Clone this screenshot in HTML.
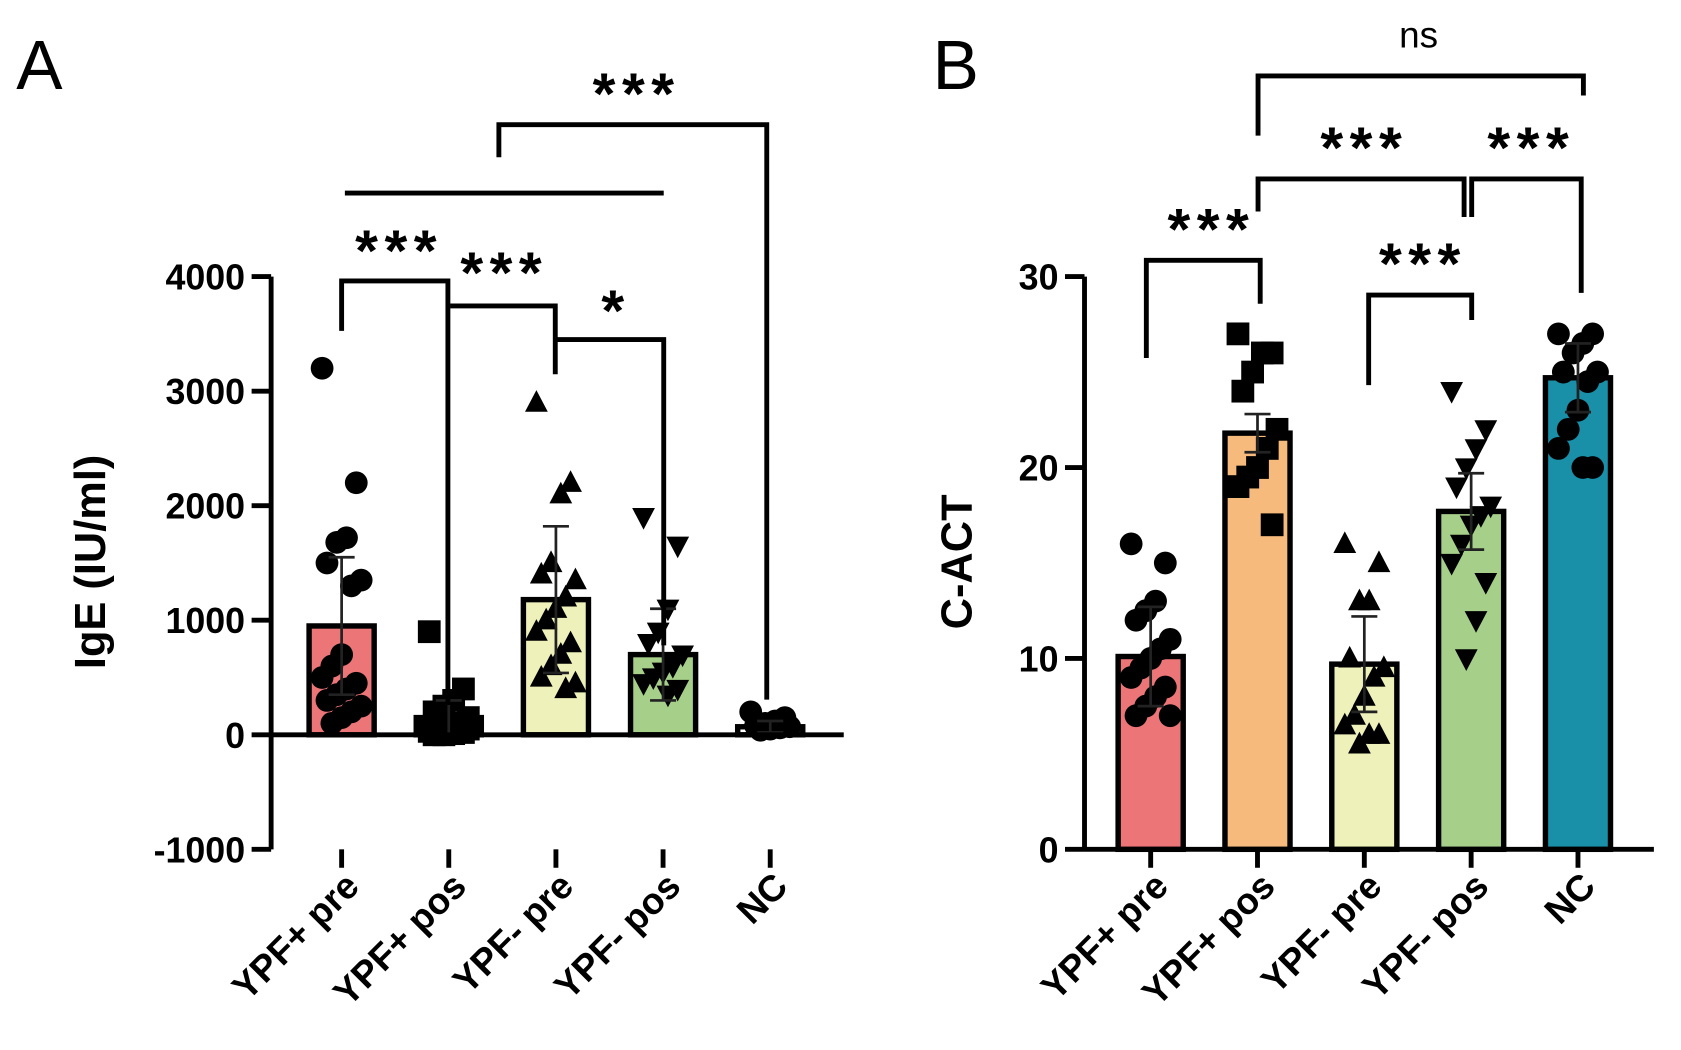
<!DOCTYPE html>
<html><head><meta charset="utf-8"><style>
html,body{margin:0;padding:0;background:#fff;}
svg{display:block;font-family:"Liberation Sans",sans-serif;}
</style></head><body>
<svg id="c" width="1681" height="1050" viewBox="0 0 1550 968" preserveAspectRatio="none"></svg>
<script>
const categories=["YPF+ pre","YPF+ pos","YPF- pre","YPF- pos","NC"];
const igeMeans=[950,150,1180,700,70];
const igeSD=[600,150,640,400,50];
const igePoints=[
[3200,2200,1720,1680,1500,1350,1300,700,600,500,450,400,350,300,250,200,150,100],
[900,400,300,250,200,150,100,80,50,30,20,10,0,0,50],
[2900,2200,2100,1500,1400,1350,1200,1100,1000,900,800,700,600,500,450,400],
[1900,1650,1100,900,800,700,600,550,500,450,400,350],
[200,150,120,100,80,70,60,50,40]];
const igeTicks=[4000,3000,2000,1000,0,-1000];
const actMeans=[10.1,21.8,9.7,17.7,24.7];
const actSD=[2.6,1.0,2.5,2.0,1.8];
const actPoints=[
[16,15,13,12.5,12,11,10.5,10,9.5,9,8.5,8,7.5,7,7],
[27,26,26,25,24,22,21,20,19.5,19,17],
[16,15,13,13,10,9.5,9,8,7,6.5,6,6,5.5],
[24,22,21,20,19,18,17.5,17,16,15,14,12,10],
[27,27,26.5,26,25,25,24.5,23,22,21,20,20]];
const actTicks=[30,20,10,0];
const colorsA=["#ec7577","#ffffff","#eef1b9","#a6d08a","#ffffff"];
const colorsB=["#ec7577","#f6ba7c","#eef1b9","#a6d08a","#1a8fa8"];
const markers=["circle","square","up","down","circle"];

const svg=document.getElementById('c');
const NS='http://www.w3.org/2000/svg';
function el(tag,attrs,parent){const e=document.createElementNS(NS,tag);for(const k in attrs)e.setAttribute(k,attrs[k]);(parent||svg).appendChild(e);return e;}
function line(x1,y1,x2,y2,w,name){const l=el('line',{x1,y1,x2,y2,stroke:'#000','stroke-width':w||4});

return l;}
function text(x,y,s,size,anchor,name,extra){const t=el('text',Object.assign({x,y,'font-size':size,'text-anchor':anchor||'middle','font-weight':'bold'},extra||{}));t.textContent=s;

return t;}
function marker(type,x,y,r,g){let m;
if(type==='circle')m=el('circle',{cx:x,cy:y,r:r,fill:'#000'},g);
else if(type==='square')m=el('rect',{x:x-r,y:y-r,width:2*r,height:2*r,fill:'#000'},g);
else if(type==='up')m=el('polygon',{points:`${x},${y-r*1.1} ${x-r},${y+r*0.8} ${x+r},${y+r*0.8}`,fill:'#000'},g);
else m=el('polygon',{points:`${x},${y+r*1.1} ${x-r},${y-r*0.8} ${x+r},${y-r*0.8}`,fill:'#000'},g);

}

function panel(o){
 const yS=v=>o.y0+(v-o.v0)*(o.y1-o.y0)/(o.v1-o.v0);
 const xS=i=>o.xStart+i*o.xStep;
 const g=el('g',{});
 
 
 categories.forEach((c,i)=>{
  const x=xS(i),top=yS(o.means[i]),base=yS(0);
  const b=el('rect',{x:x-30,y:Math.min(top,base),width:60,height:Math.abs(base-top),fill:o.colors[i],stroke:'#000','stroke-width':5},g);
  
  
 });
 o.points.forEach((arr,i)=>{arr.forEach((v,j)=>{const off=((j*7)%9-4)*4.5;marker(markers[i],xS(i)+off,yS(v),10.5,g);});});
 categories.forEach((c,i)=>{const x=xS(i),hi=yS(o.means[i]+o.sd[i]),lo=yS(Math.max(o.means[i]-o.sd[i],0));
  const e=el('path',{d:`M${x},${hi}V${lo}M${x-12},${hi}H${x+12}M${x-12},${lo}H${x+12}`,stroke:'#222','stroke-width':2.5,fill:'none'},g);
  
  });
 line(o.ax,yS(o.ticks[0]),o.ax,o.axBottom,4.5,'y-axis');
 o.ticks.forEach(t=>{line(o.ax-18,yS(t),o.ax,yS(t),4.5,'y-tick');text(o.ax-24,yS(t)+12,String(t),33,'end','y-tick-label');});
 line(o.ax,yS(0),o.axRight,yS(0),4.5,'x-axis');
 categories.forEach((c,i)=>{line(xS(i),o.axBottom,xS(i),o.axBottom+17,4.5,'x-tick');
  const x=xS(i)+18,y=o.axBottom+36;
  text(x,y,c,34,'end','x-tick-label',{transform:`rotate(-45 ${x} ${y})`});});
}
panel({name:'panel-a',v0:4000,v1:-1000,y0:255,y1:783,xStart:315,xStep:98.8,means:igeMeans,sd:igeSD,points:igePoints,ticks:igeTicks,colors:colorsA,ax:250,axBottom:783,axRight:778});
panel({name:'panel-b',v0:30,v1:0,y0:255,y1:783,xStart:1061,xStep:98.5,means:actMeans,sd:actSD,points:actPoints,ticks:actTicks,colors:colorsB,ax:1000,axBottom:783,axRight:1525});

text(97,518,'IgE (IU/ml)',40,'middle','y-axis-title-a',{transform:'rotate(-90 97 518)'});
text(896,518,'C-ACT',40,'middle','y-axis-title-b',{transform:'rotate(-90 896 518)'});
const A=text(15,82,'A',64,'start','panel-label-a');A.setAttribute('font-weight','normal');
const B=text(860,82,'B',64,'start','panel-label-b');B.setAttribute('font-weight','normal');

function bracket(pts,name){const p=el('path',{d:pts,stroke:'#000','stroke-width':4.5,fill:'none'});

}
const st={'letter-spacing':'6'};
bracket('M460,145V115H707V645','bracket-a-ypf-nc');
text(587,105,'***',54,'middle','sig-a-top',st);
bracket('M318,178H612','line-a-wide');
bracket('M315,305V259H413V650','bracket-a-1');
text(368,250,'***',54,'middle','sig-a-1',st);
bracket('M415,282H512V345','bracket-a-2');
text(465,270,'***',54,'middle','sig-a-2',st);
bracket('M512,313H612V595','bracket-a-3');
text(565,305,'*',54,'middle','sig-a-3');
bracket('M1160,125V70H1460V88','bracket-b-ns');
text(1308,44,'ns',34,'middle','sig-b-ns',{'font-weight':'normal'});
bracket('M1160,195V165H1350V200','bracket-b-2');
text(1258,155,'***',54,'middle','sig-b-2',st);
bracket('M1357,200V165H1458V270','bracket-b-3');
text(1412,155,'***',54,'middle','sig-b-3',st);
bracket('M1057,330V240H1162V280','bracket-b-1');
text(1117,230,'***',54,'middle','sig-b-1',st);
bracket('M1262,355V272H1357V295','bracket-b-4');
text(1312,262,'***',54,'middle','sig-b-4',st);
</script>
</body></html>
